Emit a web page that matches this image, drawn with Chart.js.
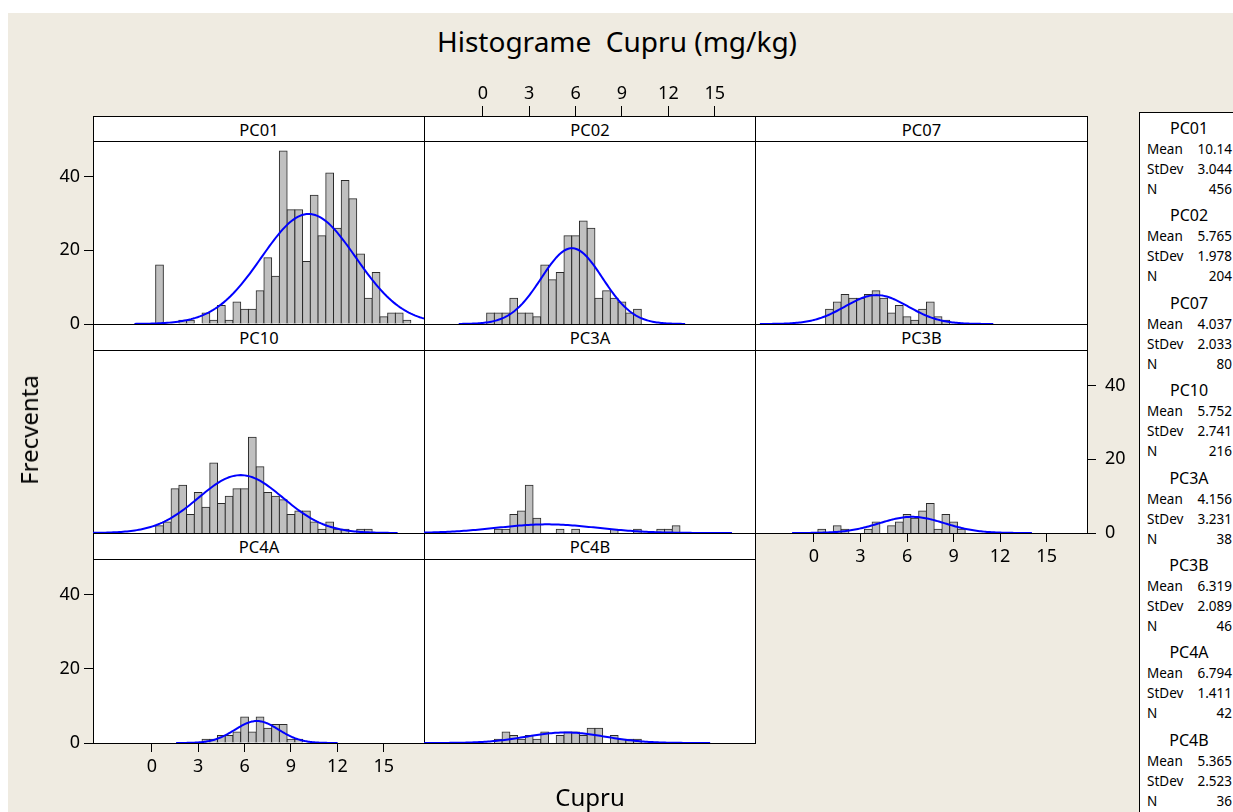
<!DOCTYPE html>
<html><head><meta charset="utf-8">
<script src="https://cdn.jsdelivr.net/npm/chart.js@4.4.0/dist/chart.umd.min.js"></script>
<style>
html,body{margin:0;padding:0;background:#fff;width:1233px;height:812px;overflow:hidden;font-family:'Noto Sans',sans-serif;position:relative;}
#bg{position:absolute;left:8px;top:13px;width:1225px;height:799px;background:#EFEBE1;}
canvas{position:absolute;z-index:1;}
.hdr{position:absolute;z-index:2;background:#fff;border:1px solid #000;box-sizing:border-box;display:flex;align-items:center;justify-content:center;font-size:16.5px;color:#000;}
.txt{position:absolute;z-index:3;color:#000;white-space:pre;line-height:1;}
#legbox{position:absolute;z-index:2;left:1139px;top:112px;width:120px;height:720px;background:#fff;border:1px solid #000;box-sizing:border-box;}
</style></head><body>
<div id="bg"></div>
<div id="legbox"></div>
<script>
// ---------- data ----------
const binMids = [0.5,1,1.5,2,2.5,3,3.5,4,4.5,5,5.5,6,6.5,7,7.5,8,8.5,9,9.5,10,10.5,11,11.5,12,12.5,13,13.5,14,14.5,15,15.5,16,16.5];
const xTickVals = [0,3,6,9,12,15];
const yTickVals = [0,20,40];
const panelNames = ['PC01','PC02','PC07','PC10','PC3A','PC3B','PC4A','PC4B'];
const meanVals  = [10.14, 5.765, 4.037, 5.752, 4.156, 6.319, 6.794, 5.365];
const stdevVals = [3.044, 1.978, 2.033, 2.741, 3.231, 2.089, 1.411, 2.523];
const nVals     = [456, 204, 80, 216, 38, 46, 42, 36];
const countsPC01 = [16,0,0,1,1,0,3,1,5,1,6,4,4,9,18,13,47,31,31,17,35,24,41,26,39,34,19,7,14,2,3,3,1];
const countsPC02 = [3,3,3,7,3,3,2,16,12,14,24,24,28,26,7,9,7,6,3,4,0,0,0,0,0,0,0,0,0,0,0,0,0];
const countsPC07 = [0,4,6,8,7,7,8,9,7,3,5,2,1,4,6,2,1,0,0,0,0,0,0,0,0,0,0,0,0,0,0,0,0];
const countsPC10 = [2,3,12,13,5,11,7,19,8,10,12,12,26,18,11,10,9,5,6,6,3,1,3,1,1,0,1,1,0,0,0,0,0];
const countsPC3A = [0,1,1,5,6,13,4,0,0,1,0,1,0,0,0,0,1,0,0,1,0,0,1,1,2,0,0,0,0,0,0,0,0];
const countsPC3B = [1,0,2,1,0,0,1,3,0,2,3,5,4,6,8,1,5,3,1,0,0,0,0,0,0,0,0,0,0,0,0,0,0];
const countsPC4A = [0,0,0,0,0,0,1,1,2,2,3,7,3,7,4,5,5,1,1,0,0,0,0,0,0,0,0,0,0,0,0,0,0];
const countsPC4B = [0,1,3,2,1,2,1,3,0,2,3,3,2,4,4,0,2,1,1,1,0,0,0,0,0,0,0,0,0,0,0,0,0];
const countsByPanel = [countsPC01,countsPC02,countsPC07,countsPC10,countsPC3A,countsPC3B,countsPC4A,countsPC4B];

// ---------- layout ----------
const colLefts = [93, 424, 755];
const colWidths = [331, 331, 332];
const rowHdrTops = [116, 324, 533];
const rowPlotTops = [141, 350, 559];
const rowPlotH = [183, 183, 184];
const panelPos = [
  {col:0,row:0,left:true},
  {col:1,row:0,top:true},
  {col:2,row:0},
  {col:0,row:1},
  {col:1,row:1},
  {col:2,row:1,right:true,bottom:true},
  {col:0,row:2,left:true,bottom:true},
  {col:1,row:2}
];
const M = 60;
const X_MIN = -3.8, X_MAX = 17.6, Y_MAX = 49.7;
const binWidth = binMids[1] - binMids[0];
Chart.defaults.font.family = 'Noto Sans';

function addText(str, x, y, size, align, extra) {
  const d = document.createElement('div');
  d.className = 'txt';
  d.textContent = str;
  d.style.left = x + 'px';
  d.style.top = y + 'px';
  d.style.fontSize = size + 'px';
  const tx = align === 'center' ? '-50%' : (align === 'right' ? '-100%' : '0');
  d.style.transform = 'translate(' + tx + ',-50%)' + (extra || '');
  document.body.appendChild(d);
  return d;
}

const framePlugin = {
  id: 'frame',
  beforeDraw(chart) {
    const a = chart.chartArea, c = chart.ctx;
    c.save(); c.fillStyle = '#fff';
    c.fillRect(a.left, a.top, a.right - a.left, a.bottom - a.top);
    c.restore();
  },
  beforeDatasetsDraw(chart) {
    const a = chart.chartArea, c = chart.ctx;
    c.save(); c.strokeStyle = '#000'; c.lineWidth = 1;
    c.strokeRect(a.left + 0.5, a.top + 0.5, a.right - a.left, a.bottom - a.top);
    c.restore();
  }
};

function tickFont() { return {family: 'Noto Sans', size: 18}; }
function scaleX(pos, show, tickLen, pad) {
  return {
    type: 'linear', position: pos, min: X_MIN, max: X_MAX, offset: false, display: show,
    grid: {display: true, offset: false, drawOnChartArea: false, drawTicks: true, tickLength: tickLen, color: '#000', lineWidth: 1},
    border: {display: true, color: '#000', width: 1},
    ticks: {color: '#000', font: tickFont(), padding: pad, autoSkip: false, maxRotation: 0, minRotation: 0, includeBounds: false},
    afterBuildTicks: s => { s.ticks = xTickVals.map(v => ({value: v})); },
    afterFit: s => { if (s.options.display) s.height = M; }
  };
}
function scaleY(pos, show, pad) {
  return {
    type: 'linear', position: pos, min: 0, max: Y_MAX, display: show,
    grid: {display: true, drawOnChartArea: false, drawTicks: true, tickLength: 9, color: '#000', lineWidth: 1},
    border: {display: true, color: '#000', width: 1},
    ticks: {color: '#000', font: tickFont(), padding: pad, includeBounds: false},
    afterBuildTicks: s => { s.ticks = yTickVals.map(v => ({value: v})); },
    afterFit: s => { if (s.options.display) s.width = M; }
  };
}

panelPos.forEach((p, i) => {
  const left = colLefts[p.col], w = colWidths[p.col];
  const top = rowPlotTops[p.row], h = rowPlotH[p.row];
  const cv = document.createElement('canvas');
  cv.width = w + 2 * M; cv.height = h + 2 * M;
  cv.style.left = (left - M) + 'px'; cv.style.top = (top - M) + 'px';
  cv.style.width = (w + 2 * M) + 'px'; cv.style.height = (h + 2 * M) + 'px';
  document.body.appendChild(cv);

  const counts = countsByPanel[i];
  const mu = meanVals[i], sd = stdevVals[i], n = nVals[i];
  const curve = [];
  const lo = mu - 3.7 * sd, hi = mu + 3.7 * sd, steps = 160;
  for (let k = 0; k <= steps; k++) {
    const x = lo + (hi - lo) * k / steps;
    const z = (x - mu) / sd;
    curve.push({x: x, y: n * binWidth / (sd * Math.sqrt(2 * Math.PI)) * Math.exp(-0.5 * z * z)});
  }

  new Chart(cv, {
    type: 'bar',
    data: {
      datasets: [
        {type: 'line', data: curve, borderColor: '#0000FF', borderWidth: 2, pointRadius: 0, tension: 0, fill: false, xAxisID: 'x', yAxisID: 'y', order: 1},
        {type: 'bar', data: binMids.map((x, j) => ({x: x, y: counts[j]})), backgroundColor: '#C0C0C0', borderColor: '#2a2a2a', borderWidth: 1, borderSkipped: 'start', inflateAmount: 0.5, barPercentage: 1, categoryPercentage: 1, xAxisID: 'x', yAxisID: 'y', order: 2}
      ]
    },
    options: {
      responsive: false, devicePixelRatio: 1, animation: false, events: [],
      layout: {padding: {left: p.left ? 0 : M, right: p.right ? 0 : M, top: p.top ? 0 : M, bottom: p.bottom ? 0 : M}},
      plugins: {legend: {display: false}, tooltip: {enabled: false}, title: {display: false}},
      scales: {
        x: scaleX('bottom', !!p.bottom, 9, 4),
        xTop: scaleX('top', !!p.top, 35, 1),
        y: scaleY('left', !!p.left, 4),
        y2: scaleY('right', !!p.right, 9)
      }
    },
    plugins: [framePlugin]
  });

  // panel header strip
  const hd = document.createElement('div');
  hd.className = 'hdr';
  hd.textContent = panelNames[i];
  hd.style.left = left + 'px';
  hd.style.width = (w + 1) + 'px';
  hd.style.top = rowHdrTops[p.row] + 'px';
  hd.style.height = (top - rowHdrTops[p.row] + 1) + 'px';
  document.body.appendChild(hd);
});

// titles
addText('Histograme  Cupru (mg/kg)', 617, 41, 28, 'center');
addText('Cupru', 590, 797, 24, 'center');
addText('Frecventa', 29, 430, 24, 'center', ' rotate(-90deg)');

// legend panel text
panelNames.forEach((nm, i) => {
  const y0 = 128 + 87.4 * i;
  addText(nm, 1189, y0, 16, 'center');
  const rows = [['Mean', String(meanVals[i])], ['StDev', String(stdevVals[i])], ['N', String(nVals[i])]];
  rows.forEach((r, k) => {
    const y = y0 + 22 + 20 * k;
    addText(r[0], 1147, y, 13.5, 'left');
    addText(r[1], 1232, y, 13.5, 'right');
  });
});
</script>
</body></html>
